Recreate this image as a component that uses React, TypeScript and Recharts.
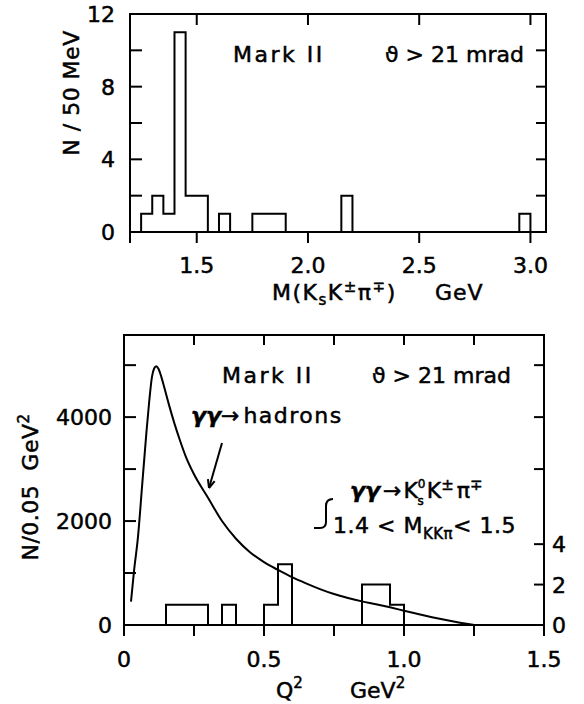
import { ComposedChart, Line, XAxis, YAxis, ReferenceArea } from "recharts"

// K_s K pi invariant mass, 50 MeV bins (lower bin edges, GeV)
const massBinLo = [1.25, 1.3, 1.35, 1.4, 1.45, 1.5, 1.6, 1.75, 1.8, 1.85, 2.15, 2.95]
const massCounts = [1, 2, 1, 11, 2, 2, 1, 1, 1, 1, 2, 1]
const massTicks = [1.2, 1.5, 2.0, 2.5, 3.0]
const massTickLabels = ["", "1.5", "2.0", "2.5", "3.0"]
const massCountTicks = [0, 2, 4, 6, 8, 10, 12]
const massCountLabels = ["0", "", "4", "", "8", "", "12"]

// Q^2 distribution of the 1.4 < M < 1.5 events, 0.05 GeV^2 bins
const q2BinLo = [0.15, 0.2, 0.25, 0.35, 0.5, 0.55, 0.85, 0.9, 0.95]
const q2Counts = [1, 1, 1, 1, 1, 3, 2, 2, 1]
const q2Ticks = [0, 0.25, 0.5, 0.75, 1.0, 1.25, 1.5]
const q2TickLabels = ["0", "", "0.5", "", "1.0", "", "1.5"]
const q2NTicks = [0, 1000, 2000, 3000, 4000, 5000]
const q2NLabels = ["0", "", "2000", "", "4000", ""]
const q2CountTicks = [0, 2, 4]
const q2CountLabels = ["0", "2", "4"]

// gamma gamma -> hadrons expectation
const curveQ2 = [
  0.025, 0.035, 0.05, 0.065, 0.08, 0.09, 0.1, 0.108, 0.115, 0.123, 0.133, 0.145, 0.16, 0.18,
  0.2, 0.22, 0.25, 0.3, 0.35, 0.4, 0.45, 0.5, 0.55, 0.6, 0.65, 0.7, 0.75, 0.8, 0.85, 0.9,
  0.95, 1.0, 1.05, 1.1, 1.15, 1.2, 1.25,
]
const curveN = [
  450, 1000, 1700, 2700, 3700, 4300, 4780, 4940, 4980, 4930, 4780, 4550, 4250, 3880,
  3550, 3250, 2900, 2450, 2000, 1660, 1400, 1210, 1060, 920, 800, 690, 595, 520, 455, 400,
  340, 275, 210, 150, 95, 45, 0,
]

const FONT = "'DejaVu Sans', 'Liberation Sans', sans-serif"
const TXT = { fontFamily: FONT, fontSize: 22, fill: "#000", stroke: "#000", strokeWidth: 0.5 }

type Pt = { x: number; n: number }

// outline of a histogram as a stepAfter polyline
function histOutline(lo: number[], counts: number[], width: number): Pt[] {
  const pts: Pt[] = []
  lo.forEach((start, i) => {
    const joined = i > 0 && Math.abs(lo[i - 1] + width - start) < 1e-6
    if (!joined) pts.push({ x: start, n: 0 })
    pts.push({ x: start, n: counts[i] })
    const end = start + width
    if (i === lo.length - 1 || Math.abs(lo[i + 1] - end) > 1e-6) pts.push({ x: end, n: 0 })
  })
  return pts
}

const tickLabel = (ticks: number[], labels: string[], v: number) => {
  const i = ticks.findIndex((t) => Math.abs(t - v) < 1e-9)
  return i >= 0 ? labels[i] : ""
}

const massHist = histOutline(massBinLo, massCounts, 0.05)
const q2Hist = histOutline(q2BinLo, q2Counts, 0.05)
const curve = curveQ2.map((x, i) => ({ x, n: curveN[i] }))

// upper panel geometry
const TOP_W = 584
const TOP_H = 320
const TOP_M = { top: 14, right: 38, bottom: 48, left: 0 }
const TOP_YW = 130
const TOP_XH = 40
const TOP_PW = TOP_W - TOP_M.right - TOP_YW
const TOP_PH = TOP_H - TOP_M.top - TOP_M.bottom - TOP_XH

// lower panel geometry
const BOT_W = 584
const BOT_H = 384
const BOT_M = { top: 15, right: 10, bottom: 39, left: 0 }
const BOT_YW = 124
const BOT_RW = 30
const BOT_XH = 40
const BOT_PW = BOT_W - BOT_M.right - BOT_YW - BOT_RW
const BOT_PH = BOT_H - BOT_M.top - BOT_M.bottom - BOT_XH

const K = "#000"

const MassXTick = ({ x, y, payload }: any) => {
  const label = tickLabel(massTicks, massTickLabels, payload.value)
  return (
    <g>
      <line x1={x} y1={y} x2={x} y2={y + 11} stroke={K} strokeWidth={2} />
      {label && <line x1={x} y1={y - TOP_PH} x2={x} y2={y - TOP_PH + 11} stroke={K} strokeWidth={2} />}
      {label && (
        <text {...TXT} x={x} y={y + 41} textAnchor="middle">
          {label}
        </text>
      )}
    </g>
  )
}

const MassYTick = ({ x, y, payload }: any) => {
  const v = payload.value
  const label = tickLabel(massCountTicks, massCountLabels, v)
  const inner = v > 0 && v < 12
  return (
    <g>
      {inner && <line x1={x} y1={y} x2={x + 12} y2={y} stroke={K} strokeWidth={2} />}
      {inner && <line x1={x + TOP_PW} y1={y} x2={x + TOP_PW - 10} y2={y} stroke={K} strokeWidth={2} />}
      {label && (
        <text {...TXT} x={x - 15} y={y + 8} textAnchor="end">
          {label}
        </text>
      )}
    </g>
  )
}

const Q2XTick = ({ x, y, payload }: any) => {
  const v = payload.value
  const label = tickLabel(q2Ticks, q2TickLabels, v)
  const inner = v > 0 && v < 1.5
  return (
    <g>
      <line x1={x} y1={y} x2={x} y2={y + 11} stroke={K} strokeWidth={2} />
      {inner && <line x1={x} y1={y - BOT_PH} x2={x} y2={y - BOT_PH + 10} stroke={K} strokeWidth={2} />}
      {label && (
        <text {...TXT} x={x} y={y + 42} textAnchor="middle">
          {label}
        </text>
      )}
    </g>
  )
}

const Q2NTick = ({ x, y, payload }: any) => {
  const v = payload.value
  const label = tickLabel(q2NTicks, q2NLabels, v)
  return (
    <g>
      {v > 0 && <line x1={x} y1={y} x2={x + 12} y2={y} stroke={K} strokeWidth={2} />}
      {v >= 3000 && <line x1={x + BOT_PW} y1={y} x2={x + BOT_PW - 10} y2={y} stroke={K} strokeWidth={2} />}
      {label && (
        <text {...TXT} x={x - 12} y={y + 8} textAnchor="end">
          {label}
        </text>
      )}
    </g>
  )
}

const Q2CountTick = ({ x, y, payload }: any) => {
  const v = payload.value
  const label = tickLabel(q2CountTicks, q2CountLabels, v)
  return (
    <g>
      {v > 0 && <line x1={x} y1={y} x2={x - 10} y2={y} stroke={K} strokeWidth={2} />}
      <text {...TXT} x={x + 8} y={y + 8} textAnchor="start">
        {label}
      </text>
    </g>
  )
}

// small arrow from the curve label to the curve
function Arrow({ x1, y1, x2, y2 }: { x1: number; y1: number; x2: number; y2: number }) {
  const a = Math.atan2(y2 - y1, x2 - x1)
  const h = 9
  const w = 0.4
  return (
    <g stroke={K} strokeWidth={2} fill="none">
      <line x1={x1} y1={y1} x2={x2} y2={y2} />
      <line x1={x2} y1={y2} x2={x2 - h * Math.cos(a - w)} y2={y2 - h * Math.sin(a - w)} />
      <line x1={x2} y1={y2} x2={x2 - h * Math.cos(a + w)} y2={y2 - h * Math.sin(a + w)} />
    </g>
  )
}

export default function App() {
  return (
    <div style={{ position: "absolute", left: 0, top: 0, width: 584, height: 704, background: "#fff" }}>
      <div style={{ position: "absolute", left: 0, top: 0 }}>
        <ComposedChart width={TOP_W} height={TOP_H} margin={TOP_M}>
          <XAxis
            type="number"
            dataKey="x"
            domain={[1.2, 3.07]}
            allowDataOverflow
            ticks={massTicks}
            interval={0}
            height={TOP_XH}
            tick={<MassXTick />}
            tickLine={false}
            axisLine={false}
            tickSize={0}
            tickMargin={0}
          />
          <YAxis
            type="number"
            domain={[0, 12]}
            allowDataOverflow
            ticks={massCountTicks}
            interval={0}
            width={TOP_YW}
            tick={<MassYTick />}
            tickLine={false}
            axisLine={false}
            tickSize={0}
            tickMargin={0}
          />
          <ReferenceArea x1={1.2} x2={3.07} y1={0} y2={12} fill="none" stroke={K} strokeWidth={2} ifOverflow="visible" />
          <Line
            data={massHist}
            dataKey="n"
            type="stepAfter"
            stroke={K}
            strokeWidth={2}
            dot={false}
            activeDot={false}
            isAnimationActive={false}
          />
        </ComposedChart>
      </div>

      <div style={{ position: "absolute", left: 0, top: 320 }}>
        <ComposedChart width={BOT_W} height={BOT_H} margin={BOT_M}>
          <XAxis
            type="number"
            dataKey="x"
            domain={[0, 1.5]}
            allowDataOverflow
            ticks={q2Ticks}
            interval={0}
            height={BOT_XH}
            tick={<Q2XTick />}
            tickLine={false}
            axisLine={false}
            tickSize={0}
            tickMargin={0}
          />
          <YAxis
            yAxisId="n"
            type="number"
            domain={[0, 5580]}
            allowDataOverflow
            ticks={q2NTicks}
            interval={0}
            width={BOT_YW}
            tick={<Q2NTick />}
            tickLine={false}
            axisLine={false}
            tickSize={0}
            tickMargin={0}
          />
          <YAxis
            yAxisId="counts"
            orientation="right"
            type="number"
            domain={[0, 14.35]}
            allowDataOverflow
            ticks={q2CountTicks}
            interval={0}
            width={BOT_RW}
            tick={<Q2CountTick />}
            tickLine={false}
            axisLine={false}
            tickSize={0}
            tickMargin={0}
          />
          <ReferenceArea
            yAxisId="n"
            x1={0}
            x2={1.5}
            y1={0}
            y2={5580}
            fill="none"
            stroke={K}
            strokeWidth={2}
            ifOverflow="visible"
          />
          <Line
            yAxisId="counts"
            data={q2Hist}
            dataKey="n"
            type="stepAfter"
            stroke={K}
            strokeWidth={2}
            dot={false}
            activeDot={false}
            isAnimationActive={false}
          />
          <Line
            yAxisId="n"
            data={curve}
            dataKey="n"
            type="monotone"
            stroke={K}
            strokeWidth={2}
            dot={false}
            activeDot={false}
            isAnimationActive={false}
          />
        </ComposedChart>
      </div>

      <svg width={584} height={704} style={{ position: "absolute", left: 0, top: 0, pointerEvents: "none" }}>
        {/* upper panel labels */}
        <text {...TXT} x={233} y={62} letterSpacing={2.5}>
          Mark II
        </text>
        <text {...TXT} x={385} y={62}>
          ϑ &gt; 21 mrad
        </text>
        <text {...TXT} x={79} y={93} transform="rotate(-90 79 93)" textAnchor="middle" letterSpacing={0.5}>
          N / 50 MeV
        </text>
        <text {...TXT} x={272} y={300} letterSpacing={1.5}>
          M(K
          <tspan fontSize={15} dy={5}>
            s
          </tspan>
          <tspan dy={-5}>K</tspan>
          <tspan fontSize={15} dy={-8}>
            ±
          </tspan>
          <tspan dy={8}>π</tspan>
          <tspan fontSize={15} dy={-8}>
            ∓
          </tspan>
          <tspan dy={8}>)</tspan>
        </text>
        <text {...TXT} x={435} y={300} letterSpacing={1}>
          GeV
        </text>

        {/* lower panel labels */}
        <text {...TXT} x={222} y={383} letterSpacing={2.5}>
          Mark II
        </text>
        <text {...TXT} x={372} y={383}>
          ϑ &gt; 21 mrad
        </text>
        <text {...TXT} x={191} y={423}>
          <tspan fontWeight="bold" fontStyle="italic">
            γγ
          </tspan>
          →
          <tspan dx={4} letterSpacing={1.5}>
            hadrons
          </tspan>
        </text>
        <Arrow x1={222} y1={443} x2={209} y2={488} />

        <text {...TXT} x={350} y={498}>
          <tspan fontWeight="bold" fontStyle="italic">
            γγ
          </tspan>
          <tspan dx={3}>→</tspan>
          <tspan dx={2}>K</tspan>
          <tspan fontSize={12} dy={-10}>
            0
          </tspan>
          <tspan fontSize={12} dx={-8} dy={17}>
            s
          </tspan>
          <tspan dx={3} dy={-7}>
            K
          </tspan>
          <tspan fontSize={15} dy={-8}>
            ±
          </tspan>
          <tspan dx={3} dy={8}>
            π
          </tspan>
          <tspan fontSize={15} dy={-8}>
            ∓
          </tspan>
        </text>
        <path d="M 333 499 Q 326 499 326 506 L 326 522 Q 326 528 320 528 L 314 528" stroke={K} strokeWidth={2} fill="none" />
        <text {...TXT} x={333} y={533} letterSpacing={0.5}>
          1.4 &lt; M
          <tspan fontSize={15} dy={6}>
            KKπ
          </tspan>
          <tspan dy={-6}>&lt; 1.5</tspan>
        </text>

        <text {...TXT} x={38} y={487} transform="rotate(-90 38 487)" textAnchor="middle" letterSpacing={0.5}>
          N/0.05
          <tspan dx={14}>GeV</tspan>
          <tspan fontSize={15} dy={-9}>
            2
          </tspan>
        </text>
        <text {...TXT} x={276} y={698}>
          Q
          <tspan fontSize={15} dy={-10}>
            2
          </tspan>
          <tspan x={350} dy={10}>
            GeV
          </tspan>
          <tspan fontSize={15} dy={-10}>
            2
          </tspan>
        </text>
      </svg>
    </div>
  )
}
